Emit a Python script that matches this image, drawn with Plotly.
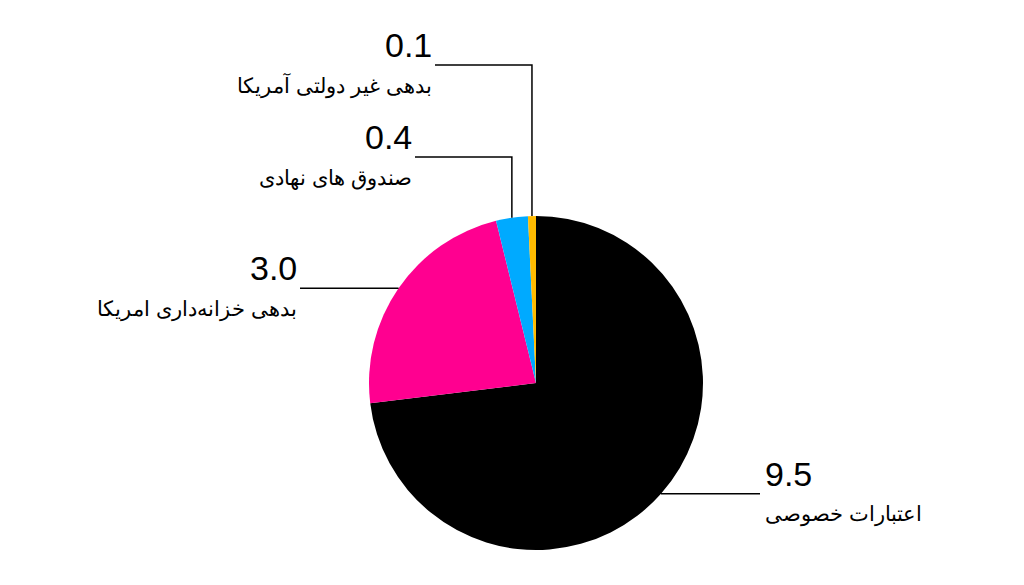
import math
import plotly.graph_objects as go

labels = ["اعتبارات خصوصی", "بدهی خزانه‌داری امریکا", "صندوق های نهادی", "بدهی غیر دولتی آمریکا"]
values = [9.5, 3.0, 0.4, 0.1]
colors = ["#000000", "#ff0090", "#00aaff", "#ffbb00"]

W, H = 1024, 585
OFF = 8  # page body margin
cx, cy, r = 536, 383, 167  # pie centre / radius in page pixels

# leader line layout: (end x, elbow y or None)
leaders = [(760, None), (300, None), (415, 157), (435, 65)]


def px(x):
    return (x - OFF) / W


def py(y):
    return 1 - (y - OFF) / H


fig = go.Figure(go.Pie(
    labels=labels, values=values, sort=False, direction="clockwise",
    rotation=0, marker=dict(colors=colors, line=dict(width=0)),
    textinfo="none", hoverinfo="label+value", showlegend=False,
    domain=dict(x=[px(cx - r), px(cx + r)], y=[py(cy + r), py(cy - r)]),
))

total = sum(values)
start = 0
shapes = []
annotations = []
for lab, val, (xend, elbow) in zip(labels, values, leaders):
    mid = (start + val / 2) / total * 2 * math.pi
    start += val
    x0 = cx + r * math.sin(mid)
    y0 = cy - r * math.cos(mid)
    if elbow is None:
        pts = [(x0, y0), (xend, y0)]
        ly = y0
    else:
        pts = [(x0, y0), (x0, elbow), (xend, elbow)]
        ly = elbow
    path = "M " + " L ".join(f"{px(a)},{py(b)}" for a, b in pts)
    shapes.append(dict(type="path", path=path, xref="paper", yref="paper",
                       line=dict(color="#000000", width=1.5)))
    right = xend > cx
    anchor = "left" if right else "right"
    tx = xend + 3 if right else xend - 1
    annotations.append(dict(x=px(tx), y=py(ly + 1), xref="paper", yref="paper",
                            text=f"{val:.1f}", showarrow=False, xanchor=anchor,
                            yanchor="bottom", font=dict(size=34, color="#000000")))
    annotations.append(dict(x=px(tx), y=py(ly + 21), xref="paper", yref="paper",
                            text=lab, showarrow=False, xanchor=anchor,
                            yanchor="middle", font=dict(size=21, color="#000000")))

fig.update_layout(
    width=W, height=H, margin=dict(l=0, r=0, t=0, b=0),
    paper_bgcolor="white", plot_bgcolor="white",
    font=dict(family="Liberation Sans, Arial, sans-serif"),
    shapes=shapes, annotations=annotations,
)

fig.write_html("out.html")
